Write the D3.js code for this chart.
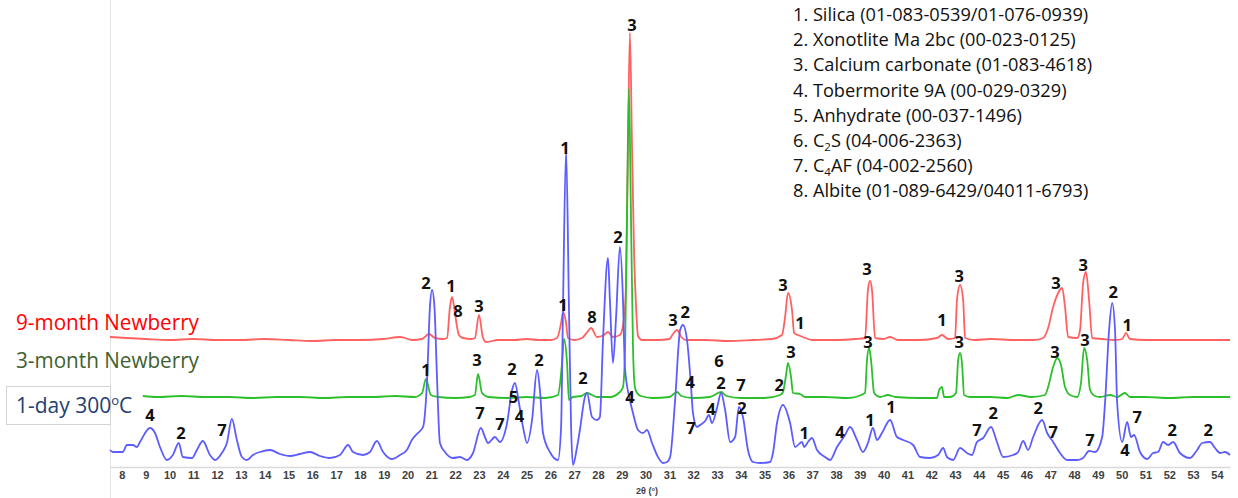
<!DOCTYPE html>
<html>
<head>
<meta charset="utf-8">
<script src="https://cdn.jsdelivr.net/npm/d3@7"></script>
<style>
body { margin: 0; background: #fff; }
svg { display: block; }
</style>
</head>
<body>
<script>
const width = 1238;
const height = 498;

// 2theta (deg), intensity (a.u., series already stacked)
const red9month = [
  [7.50,130],[8.2,129],[9.0,128],[10.0,127],[11.0,128],[12.0,127],[13.0,127],[14.0,128],[15.0,127],
  [16.0,126],[17.0,127],[18.0,127],[19.0,128],[19.7,130],[20.2,127],[20.6,128],[20.9,133],[21.15,129],
  [21.5,128],[21.66,129],[21.78,160],[21.87,170],[21.99,154],[22.08,140],[22.16,132],[22.33,129],
  [22.7,128],[22.83,129],[23.00,152],[23.17,129],[23.3,125],[23.8,127],[24.5,127],[25.0,128],[25.5,127],
  [26.0,127],[26.28,129],[26.45,144],[26.53,155],[26.66,144],[26.74,129],[27.0,127],[27.33,129],
  [27.55,135],[27.71,139],[27.96,130],[28.25,132],[28.42,135],[28.63,130],[28.92,132],[29.10,150],
  [29.18,185],[29.26,320],[29.34,434],[29.43,320],[29.52,210],[29.60,160],[29.68,131],[29.85,127],
  [30.5,127],[31.0,128],[31.15,133],[31.32,137],[31.5,130],[31.7,127],[32.5,127],[33.5,126],[34.5,127],
  [35.3,128],[35.73,132],[35.86,150],[35.98,174],[36.15,157],[36.24,134],[36.40,132],[36.61,130],
  [37.0,127],[38.0,127],[38.8,128],[39.22,129],[39.34,177],[39.43,186],[39.51,177],[39.64,129],
  [40.0,128],[40.27,130],[40.6,127],[41.5,127],[42.24,129],[42.45,132],[42.71,128],[43.0,129],
  [43.08,167],[43.21,182],[43.34,167],[43.42,129],[43.8,127],[44.5,128],[45.5,127],[46.3,127],
  [46.70,129],[46.91,139],[47.12,160],[47.33,174],[47.50,179],[47.62,160],[47.75,130],[48.13,129],
  [48.25,137],[48.38,184],[48.50,195],[48.63,167],[48.76,129],[49.2,128],[49.7,127],[50.02,128],
  [50.18,134],[50.35,128],[51.0,127],[52.0,127],[53.0,127],[54.0,127],[54.55,127]
];

const green3month = [
  [8.88,71],[9.5,70],[10.5,71],[11.5,70],[12.5,70],[13.5,69],[14.5,70],[15.5,70],[16.5,69],[17.5,70],
  [18.5,70],[19.5,71],[20.3,70],[20.61,74],[20.77,88],[20.98,72],[21.3,70],[22.0,69],[22.6,70],
  [22.83,72],[22.96,93],[23.13,74],[23.4,70],[24.2,69],[25.0,70],[25.8,69],[26.32,72],[26.49,104],
  [26.57,128],[26.70,104],[26.78,67],[26.95,70],[27.3,71],[27.54,74],[27.96,70],[28.5,70],[28.92,75],
  [29.05,80],[29.14,120],[29.22,260],[29.30,378],[29.38,260],[29.47,120],[29.55,80],[29.64,74],
  [29.8,71],[30.3,69],[31.0,70],[31.32,75],[31.5,71],[32.0,69],[32.7,70],[33.17,75],[33.4,71],
  [34.0,69],[35.0,69],[35.65,72],[35.77,75],[35.90,92],[35.98,104],[36.11,90],[36.19,74],[36.49,73],
  [36.70,70],[37.5,70],[38.5,69],[39.22,74],[39.30,107],[39.39,119],[39.47,107],[39.60,74],[39.85,70],
  [40.18,72],[40.5,70],[41.5,69],[42.24,69],[42.33,77],[42.45,80],[42.54,70],[42.8,70],[43.04,74],
  [43.13,107],[43.21,114],[43.29,104],[43.38,72],[43.63,70],[44.5,70],[45.2,69],[45.65,72],[46.2,70],
  [46.78,72],[46.91,80],[47.12,100],[47.29,109],[47.45,102],[47.62,80],[47.83,72],[48.13,70],
  [48.29,84],[48.42,119],[48.55,107],[48.67,77],[48.88,71],[49.09,70],[49.51,72],[49.81,70],
  [50.14,74],[50.35,70],[51.0,70],[52.0,69],[53.0,70],[54.0,70],[54.55,70]
];

const blue1day = [
  [7.50,17],[7.62,15],[8.04,15],[8.21,22],[8.46,22],[8.63,20],[8.76,25],[9.18,39],[9.39,34],[9.60,20],
  [9.89,7],[10.14,12],[10.39,24],[10.56,10],[10.94,9],[11.15,17],[11.40,26],[11.70,12],[11.91,7],
  [12.20,14],[12.41,24],[12.62,48],[12.83,27],[13.04,10],[13.25,7],[13.50,12],[13.80,15],[14.22,17],
  [14.64,13],[15.06,11],[15.48,13],[15.90,15],[16.32,11],[16.74,9],[17.16,12],[17.50,22],[17.71,15],
  [18.13,12],[18.42,15],[18.71,26],[18.97,15],[19.34,8],[19.68,12],[19.97,17],[20.18,27],[20.39,33],
  [20.65,40],[20.82,87],[20.94,160],[21.03,177],[21.13,160],[21.24,87],[21.36,24],[21.57,15],[21.91,9],
  [22.20,10],[22.50,7],[22.75,14],[23.08,39],[23.25,30],[23.38,24],[23.67,30],[23.88,25],[24.18,44],
  [24.39,77],[24.51,84],[24.68,64],[24.85,40],[25.02,24],[25.23,47],[25.44,97],[25.56,77],[25.69,34],
  [25.98,15],[26.32,7],[26.45,40],[26.53,160],[26.66,317],[26.78,160],[26.87,40],[26.95,2],[27.12,20],
  [27.24,37],[27.45,70],[27.54,74],[27.75,50],[27.96,47],[28.08,50],[28.21,127],[28.42,209],[28.50,167],
  [28.63,104],[28.76,150],[28.92,220],[29.05,167],[29.13,100],[29.34,67],[29.47,54],[29.68,37],
  [29.89,34],[30.06,37],[30.27,24],[30.52,10],[30.73,4],[30.90,5],[31.03,10],[31.24,67],[31.45,137],
  [31.57,142],[31.74,127],[31.91,80],[31.99,54],[32.16,40],[32.29,42],[32.50,46],[32.66,52],[32.79,44],
  [33.00,59],[33.17,74],[33.34,57],[33.55,25],[33.76,30],[33.92,60],[34.09,50],[34.30,17],[34.51,5],
  [34.81,4],[35.23,5],[35.35,14],[35.52,44],[35.77,62],[36.07,44],[36.28,20],[36.57,25],[36.66,20],
  [36.82,25],[36.99,29],[37.20,17],[37.54,10],[37.75,7],[38.04,20],[38.38,32],[38.59,40],[38.88,27],
  [39.13,15],[39.34,24],[39.55,39],[39.72,27],[39.93,34],[40.27,47],[40.56,30],[40.82,27],[41.24,22],
  [41.53,10],[41.95,9],[42.29,12],[42.50,19],[42.66,10],[42.92,7],[43.21,19],[43.50,14],[43.71,12],
  [43.92,25],[44.18,29],[44.51,40],[44.76,25],[45.02,10],[45.44,12],[45.65,15],[45.86,26],[46.07,17],
  [46.28,30],[46.66,47],[46.87,34],[47.12,25],[47.41,14],[47.71,7],[48.13,7],[48.38,9],[48.63,16],
  [48.88,15],[49.18,30],[49.30,64],[49.47,137],[49.60,164],[49.72,137],[49.81,64],[50.02,25],
  [50.23,45],[50.39,30],[50.52,32],[50.77,15],[51.07,8],[51.32,14],[51.53,15],[51.74,25],[51.95,22],
  [52.16,25],[52.45,14],[52.87,9],[53.17,17],[53.38,24],[53.71,25],[53.92,19],[54.13,14],[54.34,15],
  [54.55,12]
];

// phase numbers over peaks: [2theta, intensity, label]
const peakLabels = [
  [29.43,442,"3"],[26.61,319,"1"],[28.84,230,"2"],[20.77,184,"2"],[21.82,181,"1"],[22.12,156,"8"],
  [23.00,161,"3"],[26.53,162,"1"],[27.75,150,"8"],[20.77,97,"1"],[22.92,107,"3"],[24.39,98,"2"],
  [25.52,107,"2"],[24.45,70,"5"],[24.70,51,"4"],[23.04,54,"7"],[23.88,43,"7"],[27.37,89,"2"],
  [29.34,70,"4"],[31.15,147,"3"],[31.66,155,"2"],[31.87,85,"4"],[31.91,39,"7"],[32.75,58,"4"],
  [33.08,106,"6"],[33.17,84,"2"],[34.01,82,"7"],[34.05,59,"2"],[35.77,182,"3"],[36.49,144,"1"],
  [36.11,115,"3"],[35.61,82,"2"],[39.30,198,"3"],[39.34,125,"3"],[42.45,147,"1"],[43.17,191,"3"],
  [43.17,125,"3"],[47.24,184,"3"],[48.38,202,"3"],[47.20,115,"3"],[48.46,127,"3"],[36.66,34,"1"],
  [38.17,35,"4"],[39.43,47,"1"],[40.31,60,"1"],[43.92,37,"7"],[44.60,54,"2"],[46.49,59,"2"],
  [47.12,35,"7"],[48.67,27,"7"],[49.64,175,"2"],[50.23,142,"1"],[50.65,50,"7"],[50.14,17,"4"],
  [52.12,37,"2"],[53.63,37,"2"],[9.18,52,"4"],[10.48,34,"2"],[12.20,37,"7"]
];

const phaseList = [
  "1. Silica (01-083-0539/01-076-0939)",
  "2. Xonotlite Ma 2bc (00-023-0125)",
  "3. Calcium carbonate (01-083-4618)",
  "4. Tobermorite 9A (00-029-0329)",
  "5. Anhydrate (00-037-1496)",
  "6. C_2S (04-006-2363)",
  "7. C_4AF (04-002-2560)",
  "8. Albite (01-089-6429/04011-6793)"
];

const xTicks = d3.range(8, 55);

const x_range = [110, 1230];
const y_range = [467, 27];

let svg = d3.select("body")
    .append("svg")
    .attr("width", width)
    .attr("height", height);

svg.append("rect")
    .attr("width", width)
    .attr("height", height)
    .attr("fill", "white");

let xScale = d3.scaleLinear().domain([7.5, 54.55]).range(x_range);
let yScale = d3.scaleLinear().domain([0, 440]).range(y_range);

// left border of the chart area
svg.append("line")
    .attr("x1", 110.5).attr("x2", 110.5)
    .attr("y1", 0).attr("y2", height)
    .attr("stroke", "#e4e4e4")
    .attr("stroke-width", 1);

// x axis
let axis = svg.append("g")
    .attr("transform", `translate(0, ${yScale(0)})`)
    .call(d3.axisBottom(xScale).tickValues(xTicks).tickSize(0).tickPadding(4).tickFormat(d3.format("d")));

axis.select(".domain")
    .attr("stroke", "#d9d9d9")
    .attr("stroke-width", 1.5);
axis.selectAll(".tick text")
    .attr("fill", "#404040")
    .attr("font-family", "Liberation Sans, Arial, sans-serif")
    .attr("font-weight", "bold")
    .attr("font-size", 11);

svg.append("text")
    .attr("x", xScale(30.06))
    .attr("y", 494)
    .attr("text-anchor", "middle")
    .attr("fill", "#404040")
    .attr("font-family", "Liberation Sans, Arial, sans-serif")
    .attr("font-weight", "bold")
    .attr("font-size", 9)
    .text("2θ (°)");

// patterns
let line = d3.line()
    .x(d => xScale(d[0]))
    .y(d => yScale(d[1]))
    .curve(d3.curveMonotoneX);

const series = [
    {data: red9month, color: "#ff6060"},
    {data: green3month, color: "#2cbf2c"},
    {data: blue1day, color: "#5c5cff"}
];

svg.selectAll(".pattern")
    .data(series)
    .enter()
    .append("path")
    .attr("class", "pattern")
    .attr("d", d => line(d.data))
    .attr("fill", "none")
    .attr("stroke", d => d.color)
    .attr("stroke-width", 1.8)
    .attr("stroke-linejoin", "round");

// peak numbers
svg.selectAll(".peak")
    .data(peakLabels)
    .enter()
    .append("text")
    .attr("class", "peak")
    .attr("x", d => xScale(d[0]))
    .attr("y", d => yScale(d[1]))
    .attr("dy", "0.36em")
    .attr("text-anchor", "middle")
    .attr("font-family", "Open Sans, sans-serif")
    .attr("font-weight", "bold")
    .attr("font-size", 16.5)
    .attr("fill", "#111")
    .text(d => d[2]);

// series names on the left
const labelFont = "Open Sans, sans-serif";
svg.append("rect")
    .attr("x", 6.5).attr("y", 386.5)
    .attr("width", 104).attr("height", 38)
    .attr("fill", "white")
    .attr("stroke", "#d4d4d4");

svg.append("text")
    .attr("x", 16).attr("y", 330)
    .attr("font-family", labelFont).attr("font-size", 21)
    .attr("fill", "#ff0000")
    .attr("textLength", 183).attr("lengthAdjust", "spacingAndGlyphs")
    .text("9-month Newberry");

svg.append("text")
    .attr("x", 16).attr("y", 368)
    .attr("font-family", labelFont).attr("font-size", 21)
    .attr("fill", "#3f6130")
    .attr("textLength", 183).attr("lengthAdjust", "spacingAndGlyphs")
    .text("3-month Newberry");

let dayLabel = svg.append("text")
    .attr("x", 16).attr("y", 413)
    .attr("font-family", labelFont).attr("font-size", 21)
    .attr("fill", "#24406e");
dayLabel.append("tspan").text("1-day 300");
dayLabel.append("tspan").attr("font-size", 13).attr("dy", -8).text("o");
dayLabel.append("tspan").attr("dy", 8).text("C");

// phase legend
let legend = svg.append("g")
    .attr("font-family", labelFont)
    .attr("font-size", 18.2)
    .attr("fill", "#111");

phaseList.forEach((s, i) => {
    let t = legend.append("text")
        .attr("x", 793)
        .attr("y", 21 + i * 25.2);
    s.split(/_(\d)/).forEach((part, j) => {
        if (j % 2 === 1) {
            t.append("tspan").attr("font-size", 11.5).attr("dy", 4).text(part);
        } else if (part.length) {
            t.append("tspan").attr("dy", j > 0 ? -4 : 0).text(part);
        }
    });
});
</script>
</body>
</html>
